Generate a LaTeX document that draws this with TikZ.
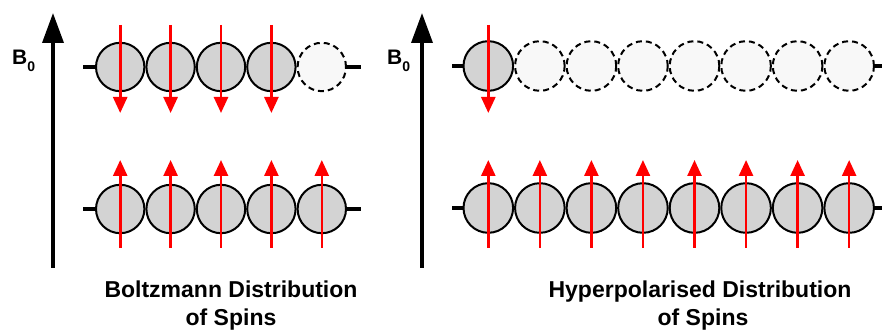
\documentclass[tikz,border=0pt]{standalone}
\usepackage{fontspec}
\setmainfont{Liberation Sans}
\usetikzlibrary{arrows.meta}
\definecolor{spingray}{HTML}{D3D3D3}
\definecolor{emptyfill}{HTML}{F8F8F8}
\definecolor{spinred}{HTML}{FF0000}
\tikzset{
  full/.style={circle,draw=black,line width=2pt,fill=spingray,inner sep=0pt},
  empty/.style={circle,draw=black,line width=2pt,fill=emptyfill,inner sep=0pt,dash pattern=on 6pt off 4pt},
  stub/.style={line width=4pt,black},
  spin/.style={line width=2.6pt,spinred,-{Triangle[length=16pt,width=14pt]}},
  field/.style={line width=3.6pt,black,-{Triangle[length=30pt,width=21pt]}},
  blabel/.style={font=\bfseries\fontsize{21}{21}\selectfont,inner sep=0pt,anchor=base west},
  caption/.style={font=\bfseries\fontsize{23}{27}\selectfont,inner sep=0pt,anchor=base},
}
\newcommand{\bsub}{B\raisebox{-7pt}{\fontsize{14}{14}\selectfont 0}}
\begin{document}
\begin{tikzpicture}[x=1pt,y=-1pt]
\useasboundingbox (0,0) rectangle (882,336);
% ---------- left panel ----------
\coordinate (lfb) at (53,268);
\coordinate (lft) at (53,13);
\draw[field] (lfb) -- (lft);
\node[blabel] (lB) at (12,65) {\bsub};
% top row (4 full, 1 empty)
\foreach \i in {1,...,5}{
  \pgfmathsetmacro{\cx}{120.2+50.4*(\i-1)}
  \ifnum\i<5
    \node[full,minimum size=48.4pt] (lt\i) at (\cx,67) {};
  \else
    \node[empty,minimum size=48.4pt] (lt\i) at (\cx,67) {};
  \fi
  \node[full,minimum size=48.4pt] (lb\i) at (\cx,209) {};
}
\coordinate (ltl) at (83,67);
\coordinate (ltr) at (361,67);
\coordinate (lbl) at (83,209);
\coordinate (lbr) at (361,209);
\draw[stub] (ltl) -- (lt1.west);
\draw[stub] (lt5.east) -- (ltr);
\draw[stub] (lbl) -- (lb1.west);
\draw[stub] (lb5.east) -- (lbr);
\foreach \i in {1,...,4}{
  \draw[spin] ([yshift=42pt]lt\i.center) -- ([yshift=-46pt]lt\i.center);
}
\foreach \i in {1,...,5}{
  \draw[spin] ([yshift=-39pt]lb\i.center) -- ([yshift=49pt]lb\i.center);
}
\node[caption] (lc1) at (231,298) {Boltzmann Distribution};
\node[caption] (lc2) at (231,325) {of Spins};
% ---------- right panel ----------
\coordinate (rfb) at (422,268);
\coordinate (rft) at (422,13);
\draw[field] (rfb) -- (rft);
\node[blabel] (rB) at (387,65) {\bsub};
\foreach \i in {1,...,8}{
  \pgfmathsetmacro{\cx}{488.3+51.55*(\i-1)}
  \ifnum\i<2
    \node[full,minimum size=49.6pt] (rt\i) at (\cx,66) {};
  \else
    \node[empty,minimum size=49.6pt] (rt\i) at (\cx,66) {};
  \fi
  \node[full,minimum size=49.6pt] (rb\i) at (\cx,208) {};
}
\coordinate (rtl) at (452,66);
\coordinate (rtr) at (882,66);
\coordinate (rbl) at (452,208);
\coordinate (rbr) at (882,208);
\draw[stub] (rtl) -- (rt1.west);
\draw[stub] (rt8.east) -- (rtr);
\draw[stub] (rbl) -- (rb1.west);
\draw[stub] (rb8.east) -- (rbr);
\draw[spin] ([yshift=41pt]rt1.center) -- ([yshift=-47pt]rt1.center);
\foreach \i in {1,...,8}{
  \draw[spin] ([yshift=-40pt]rb\i.center) -- ([yshift=48pt]rb\i.center);
}
\node[caption] (rc1) at (700,298) {Hyperpolarised Distribution};
\node[caption] (rc2) at (703,325) {of Spins};
\end{tikzpicture}
\end{document}
